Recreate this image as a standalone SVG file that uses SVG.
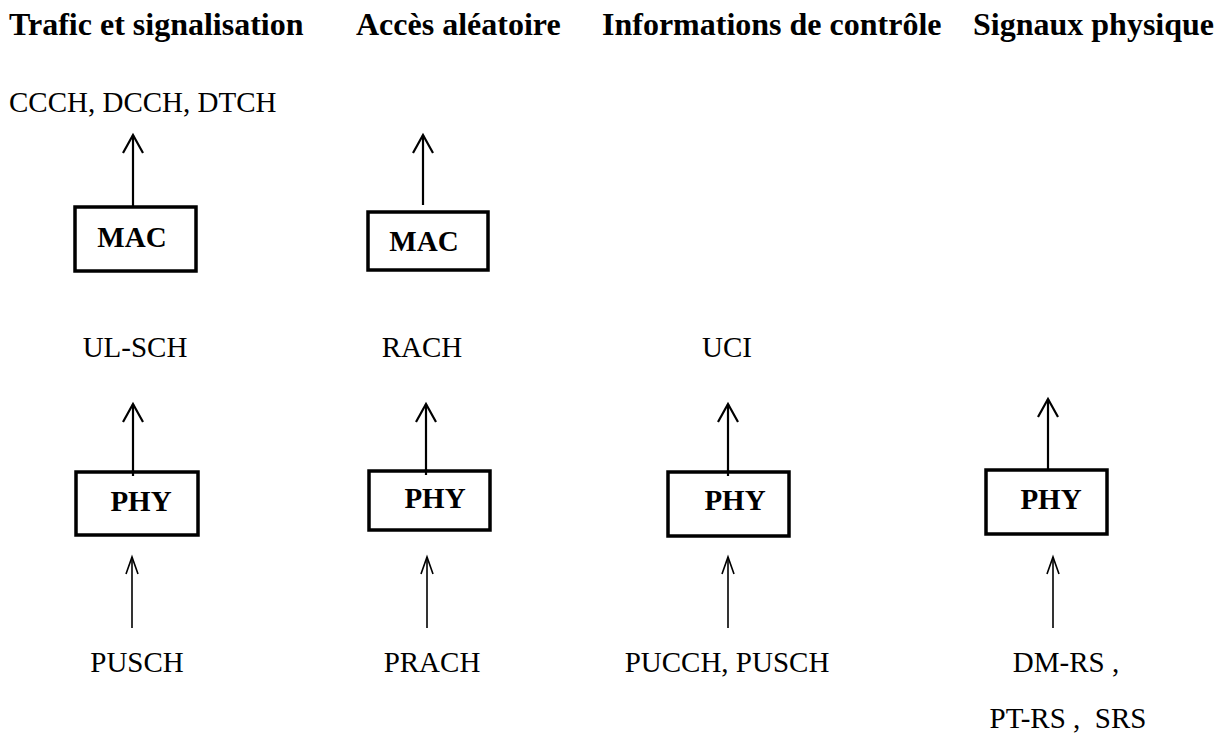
<svg xmlns="http://www.w3.org/2000/svg" width="1222" height="738" viewBox="0 0 1222 738">
  <style>
    .title { font-family: "Liberation Serif", "Times New Roman", serif; font-weight: bold; font-size: 32px; fill: #000; }
    .label { font-family: "Liberation Serif", "Times New Roman", serif; font-size: 29px; fill: #000; }
    .box { fill: #fff; stroke: #000; stroke-width: 3.5; }
    .boxtext { font-family: "Liberation Serif", "Times New Roman", serif; font-weight: bold; font-size: 29px; fill: #000; text-anchor: middle; }
    .up line { stroke: #000; stroke-width: 2.2; }
    .up polyline { fill: none; stroke: #000; stroke-width: 2.2; }
    .in line { stroke: #000; stroke-width: 1.6; }
    .in polyline { fill: none; stroke: #000; stroke-width: 1.6; }
  </style>

  <!-- column headings -->
  <g id="headings">
    <text class="title" x="9" y="35">Trafic et signalisation</text>
    <text class="title" x="356" y="35">Accès aléatoire</text>
    <text class="title" x="602" y="35">Informations de contrôle</text>
    <text class="title" x="973" y="35">Signaux physique</text>
  </g>

  <!-- channel labels -->
  <g id="labels">
    <text class="label" x="9" y="112">CCCH, DCCH, DTCH</text>
    <text class="label" x="135" y="357" text-anchor="middle">UL-SCH</text>
    <text class="label" x="422" y="357" text-anchor="middle">RACH</text>
    <text class="label" x="727" y="357" text-anchor="middle">UCI</text>
    <text class="label" x="137" y="672" text-anchor="middle">PUSCH</text>
    <text class="label" x="432" y="672" text-anchor="middle">PRACH</text>
    <text class="label" x="727" y="672" text-anchor="middle">PUCCH, PUSCH</text>
    <text class="label" x="1066" y="672" text-anchor="middle">DM-RS ,</text>
    <text class="label" x="1068" y="728" text-anchor="middle" xml:space="preserve">PT-RS ,  SRS</text>
  </g>

  <!-- connectors: upward arrows with open heads -->
  <g id="connectors">
    <g class="up">
      <line x1="133" y1="206" x2="133" y2="135"/>
      <polyline points="123,153 133,135 143,153"/>
      <line x1="423" y1="205" x2="423" y2="135"/>
      <polyline points="413,153 423,135 433,153"/>

      <line x1="133" y1="475" x2="133" y2="404"/>
      <polyline points="123,422 133,404 143,422"/>
      <line x1="426" y1="475" x2="426" y2="404"/>
      <polyline points="416,422 426,404 436,422"/>
      <line x1="728" y1="475" x2="728" y2="404"/>
      <polyline points="718,422 728,404 738,422"/>
      <line x1="1048" y1="469" x2="1048" y2="399"/>
      <polyline points="1038,417 1048,399 1058,417"/>
    </g>
    <g class="in">
      <line x1="132" y1="628" x2="132" y2="557"/>
      <polyline points="126,574 132,557 138,574"/>
      <line x1="427" y1="628" x2="427" y2="557"/>
      <polyline points="421,574 427,557 433,574"/>
      <line x1="728" y1="628" x2="728" y2="557"/>
      <polyline points="722,574 728,557 734,574"/>
      <line x1="1053" y1="628" x2="1053" y2="557"/>
      <polyline points="1047,574 1053,557 1059,574"/>
    </g>
  </g>

  <!-- MAC layer -->
  <g id="mac-trafic">
    <rect class="box" x="75" y="207" width="121" height="64"/>
    <text class="boxtext" x="132" y="247">MAC</text>
  </g>
  <g id="mac-acces">
    <rect class="box" x="368" y="212" width="120" height="58"/>
    <text class="boxtext" x="424" y="251">MAC</text>
  </g>

  <!-- PHY layer -->
  <g id="phy-trafic">
    <rect class="box" x="76" y="472" width="122" height="63"/>
    <text class="boxtext" x="141" y="511">PHY</text>
  </g>
  <g id="phy-acces">
    <rect class="box" x="369" y="471" width="121" height="59"/>
    <text class="boxtext" x="435" y="508">PHY</text>
  </g>
  <g id="phy-controle">
    <rect class="box" x="668" y="472" width="121" height="64"/>
    <text class="boxtext" x="735" y="510">PHY</text>
  </g>
  <g id="phy-signaux">
    <rect class="box" x="986" y="470" width="121" height="64"/>
    <text class="boxtext" x="1051" y="509">PHY</text>
  </g>

  <!-- arrow shafts crossing the top edge of the PHY boxes -->
  <g id="stubs" class="up">
    <line x1="133" y1="470" x2="133" y2="476"/>
    <line x1="426" y1="469" x2="426" y2="475"/>
    <line x1="728" y1="470" x2="728" y2="476"/>
  </g>
</svg>
